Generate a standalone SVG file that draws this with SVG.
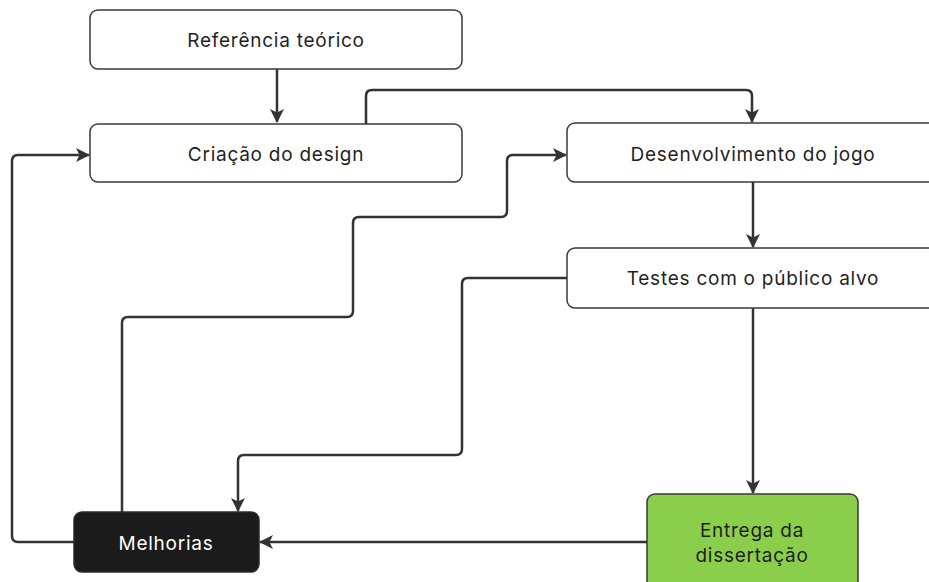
<svg xmlns="http://www.w3.org/2000/svg" width="929" height="582" viewBox="0 0 929 582">
<defs>
<marker id="arr" viewBox="0 0 14 14" refX="13" refY="7" markerWidth="14" markerHeight="14" markerUnits="userSpaceOnUse" orient="auto">
<path d="M0,0 L14,7 L0,14 L3.5,7 Z" fill="#333333"/>
</marker>
<style>
.box{fill:#ffffff;stroke:#3a3a3a;stroke-width:1.5}
.lbl{font-family:Inter,"Noto Sans","Liberation Sans",sans-serif;font-size:19px;letter-spacing:0.75px;fill:#1f1f1f;text-anchor:middle;dominant-baseline:central}
.edge{fill:none;stroke:#333333;stroke-width:2.5;stroke-linejoin:round}
</style>
</defs>
<rect width="929" height="582" fill="#ffffff"/>
<g id="connectors">
<path class="edge" d="M277,69 L277,122" marker-end="url(#arr)"/>
<path class="edge" d="M366,124 L366,96 Q366,90 372,90 L746,90 Q752,90 752,96 L752,122" marker-end="url(#arr)"/>
<path class="edge" d="M753,182 L753,247" marker-end="url(#arr)"/>
<path class="edge" d="M753,308 L753,493" marker-end="url(#arr)"/>
<path class="edge" d="M647,542 L260,542" marker-end="url(#arr)"/>
<path class="edge" d="M74,542 L18,542 Q12,542 12,536 L12,161 Q12,155 18,155 L89,155" marker-end="url(#arr)"/>
<path class="edge" d="M122,512 L122,323 Q122,317 128,317 L347,317 Q353,317 353,311 L353,223 Q353,217 359,217 L501,217 Q507,217 507,211 L507,161 Q507,155 513,155 L566,155" marker-end="url(#arr)"/>
<path class="edge" d="M567,278 L468,278 Q462,278 462,284 L462,449 Q462,455 456,455 L244,455 Q238,455 238,461 L238,511" marker-end="url(#arr)"/>
</g>
<g id="n1">
<rect class="box" x="90" y="10" width="372" height="59" rx="8"/>
<text class="lbl" x="276" y="40">Referência teórico</text>
</g>
<g id="n2">
<rect class="box" x="90" y="124" width="372" height="58" rx="8"/>
<text class="lbl" x="276" y="154">Criação do design</text>
</g>
<g id="n3">
<rect class="box" x="567" y="123" width="380" height="59" rx="8"/>
<text class="lbl" x="753" y="154">Desenvolvimento do jogo</text>
</g>
<g id="n4">
<rect class="box" x="567" y="248" width="380" height="60" rx="8"/>
<text class="lbl" x="753" y="278">Testes com o público alvo</text>
</g>
<g id="n5">
<rect x="74" y="512" width="185" height="60" rx="8" fill="#1b1b1b" stroke="#2a2a2a" stroke-width="1.5"/>
<text class="lbl" x="166" y="543" style="fill:#ffffff">Melhorias</text>
</g>
<g id="n6">
<rect x="647" y="494" width="211" height="100" rx="8" fill="#8bce4c" stroke="#3a3a3a" stroke-width="1.5"/>
<text class="lbl" x="752" y="530">Entrega da</text>
<text class="lbl" x="752" y="555">dissertação</text>
</g>
</svg>
